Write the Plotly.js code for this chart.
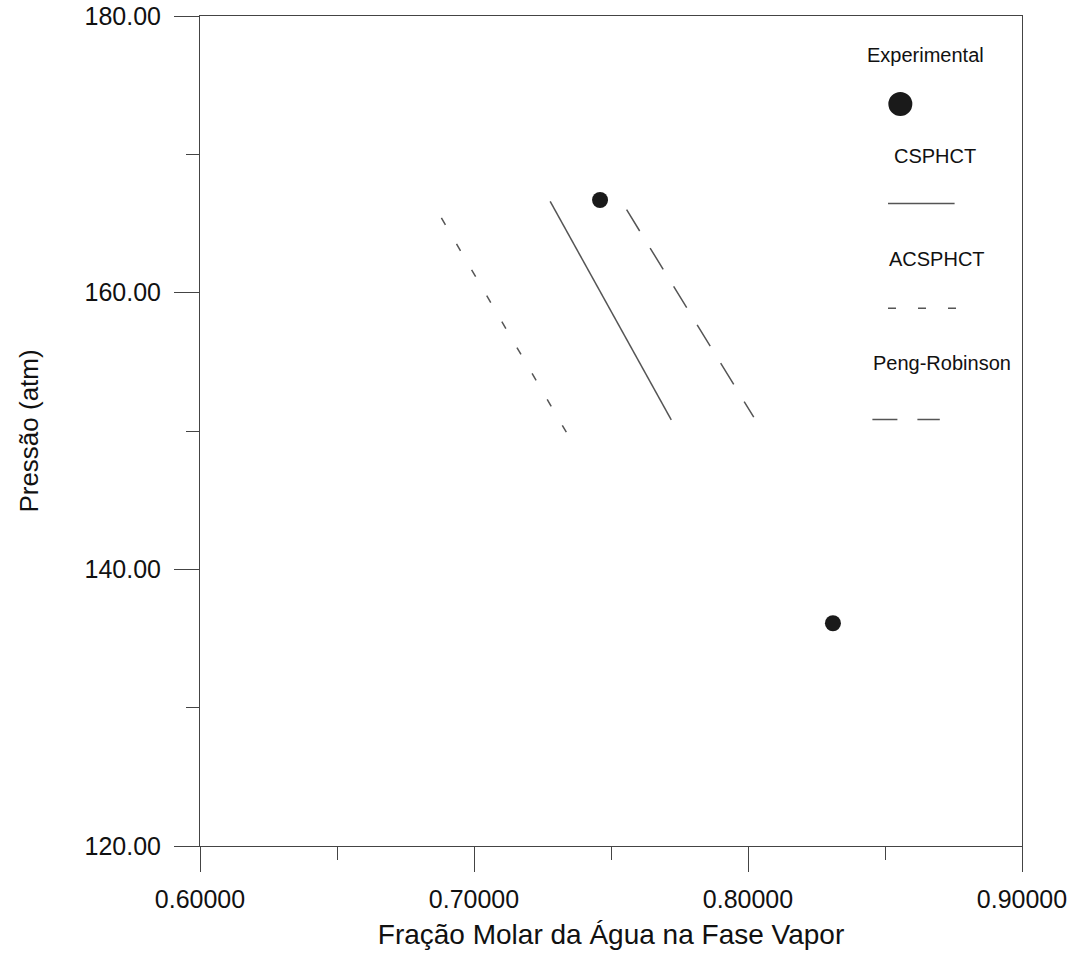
<!DOCTYPE html>
<html>
<head>
<meta charset="utf-8">
<script src="https://cdn.plot.ly/plotly-3.0.1.min.js"></script>
<style>
  html, body { margin: 0; padding: 0; background: #ffffff; }
  #chart { width: 1088px; height: 953px; }
</style>
</head>
<body>
<div id="chart"></div>
<script>
// Data
const seriesNames = ["Experimental", "CSPHCT", "ACSPHCT", "Peng-Robinson"];
const expX = [0.746, 0.831];
const expY = [166.7, 136.1];
const csphctX = [0.7278, 0.7720];
const csphctY = [166.6, 150.8];
const acsphctX = [0.6881, 0.7355];
const acsphctY = [165.4, 149.3];
const prX = [0.7557, 0.8021];
const prY = [166.0, 151.0];
const xTickVals = [0.6, 0.7, 0.8, 0.9];
const yTickVals = [120, 140, 160, 180];

const FONT = "Liberation Sans, Arial, Helvetica, sans-serif";
const INK = "#111111";
const LINE = "#555555";
const AXIS = "#444444";

const traces = [
  { x: expX, y: expY, name: seriesNames[0], mode: "markers", type: "scatter",
    marker: { size: 16, color: "#1a1a1a" } },
  { x: csphctX, y: csphctY, name: seriesNames[1], mode: "lines", type: "scatter",
    line: { color: LINE, width: 1.5, dash: "solid" } },
  { x: acsphctX, y: acsphctY, name: seriesNames[2], mode: "lines", type: "scatter",
    line: { color: LINE, width: 1.5, dash: "8px,22px" } },
  { x: prX, y: prY, name: seriesNames[3], mode: "lines", type: "scatter",
    line: { color: LINE, width: 1.5, dash: "25px,20px" } }
];

// Legend laid out as in the original: label above its symbol
const legend = [
  { label: seriesNames[0], tx: 0.883, ty: 0.953, sy: 0.894, kind: "marker", x0: 0.852, x1: 0.852 },
  { label: seriesNames[1], tx: 0.894, ty: 0.831, sy: 0.774, kind: "solid", x0: 0.837, x1: 0.918 },
  { label: seriesNames[2], tx: 0.897, ty: 0.707, sy: 0.648, kind: "8px,22px", x0: 0.837, x1: 0.921 },
  { label: seriesNames[3], tx: 0.903, ty: 0.582, sy: 0.514, kind: "25px,20px", x0: 0.818, x1: 0.900 }
];
const annotations = legend.map(e => ({
  xref: "paper", yref: "paper", x: e.tx, y: e.ty, text: e.label, showarrow: false,
  xanchor: "center", yanchor: "middle", font: { family: FONT, size: 20, color: INK }
}));
const shapes = [];
legend.forEach(e => {
  if (e.kind === "marker") {
    shapes.push({ type: "circle", xref: "paper", yref: "paper", xsizemode: "pixel", ysizemode: "pixel",
      xanchor: e.x0, yanchor: e.sy, x0: -12, x1: 12, y0: -12, y1: 12,
      fillcolor: "#1a1a1a", line: { width: 0 } });
  } else {
    shapes.push({ type: "line", xref: "paper", yref: "paper", x0: e.x0, x1: e.x1, y0: e.sy, y1: e.sy,
      line: { color: LINE, width: 1.5, dash: e.kind } });
  }
});

const layout = {
  width: 1088, height: 953,
  margin: { l: 200, r: 66, t: 16, b: 107 },
  paper_bgcolor: "#ffffff", plot_bgcolor: "#ffffff",
  showlegend: false,
  font: { family: FONT, color: INK },
  xaxis: {
    range: [0.6, 0.9], tickvals: xTickVals, tickformat: ".5f",
    ticks: "outside", ticklen: 25, tickcolor: AXIS, tickwidth: 1,
    minor: { dtick: 0.05, ticks: "outside", ticklen: 13, tickcolor: AXIS },
    showline: true, linecolor: AXIS, linewidth: 1, mirror: true,
    showgrid: false, zeroline: false,
    tickfont: { family: FONT, size: 25, color: INK },
    ticklabelstandoff: 6, ticklabeloverflow: "allow",
    title: { text: "Fração Molar da Água na Fase Vapor", font: { family: FONT, size: 28, color: INK }, standoff: 12 }
  },
  yaxis: {
    range: [120, 180], tickvals: yTickVals, tickformat: ".2f",
    ticks: "outside", ticklen: 25, tickcolor: AXIS, tickwidth: 1,
    minor: { dtick: 10, ticks: "outside", ticklen: 13, tickcolor: AXIS },
    showline: true, linecolor: AXIS, linewidth: 1, mirror: true,
    showgrid: false, zeroline: false,
    tickfont: { family: FONT, size: 25, color: INK },
    ticklabelstandoff: 8, ticklabeloverflow: "allow",
    title: { text: "Pressão (atm)", font: { family: FONT, size: 26, color: INK }, standoff: 38 }
  },
  annotations: annotations,
  shapes: shapes
};

Plotly.newPlot("chart", traces, layout, { displayModeBar: false, staticPlot: true });
</script>
</body>
</html>
